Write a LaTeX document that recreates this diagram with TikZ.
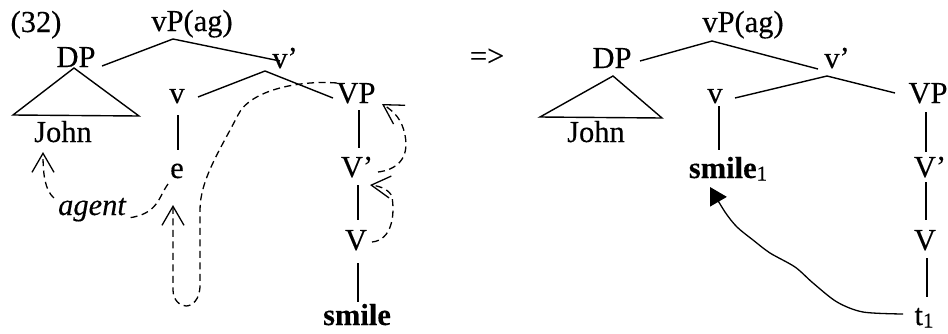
\documentclass[tikz,border=0pt]{standalone}
\usepackage{fontspec}
\setmainfont{Liberation Serif}[FakeBold=0.3]
\usetikzlibrary{arrows.meta,calc}
\newcommand{\idx}[1]{\raisebox{-2.5pt}{\fontsize{21}{24}\selectfont #1}}
\begin{document}
\begin{tikzpicture}[x=1pt,y=-1pt,
  lab/.style={anchor=base,inner sep=0pt,font=\fontsize{30.5}{36}\selectfont},
  edge/.style={line width=1.4pt},
  move/.style={line width=1.3pt,dash pattern=on 7pt off 4.5pt,
    -{Straight Barb[length=19pt,width=22pt,line width=1.3pt]}},
  dashline/.style={line width=1.3pt,dash pattern=on 7pt off 4.5pt},
  raise/.style={line width=1.3pt,-{Triangle[length=17pt,width=19pt]}}]
\useasboundingbox (0,0) rectangle (948,333);

% ---------- left tree ----------
\node[lab] (num)    at (36,32)   {(32)};
\node[lab] (vPL)    at (192,31)  {vP(ag)};
\node[lab] (DPL)    at (76,67)   {DP};
\node[lab] (vbL)    at (285,68)  {v’};
\node[lab] (vL)     at (177,103) {v};
\node[lab] (VPL)    at (356,103) {VP};
\node[lab] (JohnL)  at (63,142)  {John};
\node[lab] (eL)     at (177,178) {e};
\node[lab] (VbL)    at (357,177) {V’};
\node[lab] (VL)     at (356,250) {V};
\node[lab] (smileL) at (357,325) {\bfseries smile};
\node[lab] (agent)  at (92,215)  {\itshape agent};

\draw[edge] ($(vPL.base)+(-19,8)$) -- ($(DPL.base)+(26,-1)$);
\draw[edge] ($(vPL.base)+(-19,8)$) -- ($(vbL.base)+(-5,-7)$);
\draw[edge] ($(DPL.base)+(-2,1)$) -- ($(JohnL.base)+(-50,-27)$)
  -- ($(JohnL.base)+(76,-26)$) -- cycle;
\draw[edge] ($(vbL.base)+(-20,3)$) -- ($(vL.base)+(21,-6)$);
\draw[edge] ($(vbL.base)+(-20,3)$) -- ($(VPL.base)+(-23,-5)$);
\draw[edge] ($(vL.base)+(1,12)$) -- ($(eL.base)+(1,-28)$);
\draw[edge] ($(VPL.base)+(3,7)$) -- ($(VbL.base)+(2,-29)$);
\draw[edge] ($(VbL.base)+(1,8)$) -- ($(VL.base)+(2,-30)$);
\draw[edge] ($(VL.base)+(2,13)$) -- ($(smileL.base)+(1,-23)$);

% theta-role assignment and head movement paths
\draw[dashline] ($(eL.base)+(-9,6)$) .. controls (158,198) and (158,214)
  .. ($(agent.base east)+(2,3)$);
\draw[move] ($(agent.base west)+(-4,-17)$) .. controls (45,190) and (43,175)
  .. ($(JohnL.base)+(-20,10)$);
\draw[move] ($(VPL.base)+(-19,-20)$) .. controls (300,80) and (250,90) .. (238,115)
  .. controls (220,150) and (200,180) .. (200,210) -- (200,285)
  .. controls (200,300) and (192,306) .. (186,306)
  .. controls (180,306) and (173,300) .. (173,290) -- ($(eL.base)+(-4,27)$);
\draw[move] ($(VbL.base)+(21,-5)$) .. controls (395,170) and (410,160) .. (405,135)
  .. controls (402,120) and (395,112) .. ($(VPL.base)+(26,1)$);
\draw[move] ($(VL.base)+(16,-8)$) .. controls (392,240) and (395,215) .. (392,197)
  .. controls (390,190) and (380,186) .. ($(VbL.base)+(13,8)$);

\node[lab] (impl) at (487,66) {=>};

% ---------- right tree ----------
\node[lab] (vPR)    at (743,32)  {vP(ag)};
\node[lab] (DPR)    at (612,68)  {DP};
\node[lab] (vbR)    at (837,68)  {v’};
\node[lab] (vR)     at (715,103) {v};
\node[lab] (VPR)    at (928,103) {VP};
\node[lab] (JohnR)  at (596,142) {John};
\node[lab] (smileR) at (728,178) {\textbf{smile}\idx{1}};
\node[lab] (VbR)    at (930,177) {V’};
\node[lab] (VR)     at (925,250) {V};
\node[lab] (tR)     at (924,325) {t\idx{1}};

\draw[edge] ($(vPR.base)+(-31,9)$) -- ($(DPR.base)+(28,-7)$);
\draw[edge] ($(vPR.base)+(-31,9)$) -- ($(vbR.base)+(-19,1)$);
\draw[edge] ($(DPR.base)+(1,8)$) -- ($(JohnR.base)+(-56,-25)$)
  -- ($(JohnR.base)+(66,-24)$) -- cycle;
\draw[edge] ($(vbR.base)+(-10,8)$) -- ($(vR.base)+(20,-5)$);
\draw[edge] ($(vbR.base)+(-10,8)$) -- ($(VPR.base)+(-33,-10)$);
\draw[edge] ($(vR.base)+(4,3)$) -- ($(smileR.base)+(-9,-28)$);
\draw[edge] ($(VPR.base)+(-2,9)$) -- ($(VbR.base)+(-4,-25)$);
\draw[edge] ($(VbR.base)+(-4,5)$) -- ($(VR.base)+(1,-30)$);
\draw[edge] ($(VR.base)+(2,8)$) -- ($(tR.base)+(3,-28)$);

% movement of the verb from t1 to v
\coordinate (tstart) at ($(tR.base)+(-21,-11)$);
\coordinate (ttip) at ($(smileR.base)+(-18,9)$);
\draw[raise] plot[smooth,tension=0.5] coordinates {(tstart) (863,312) (837,302)
  (813,283) (795,267) (770,253) (753,240) (737,227) (725,212) (ttip)};
\end{tikzpicture}
\end{document}
